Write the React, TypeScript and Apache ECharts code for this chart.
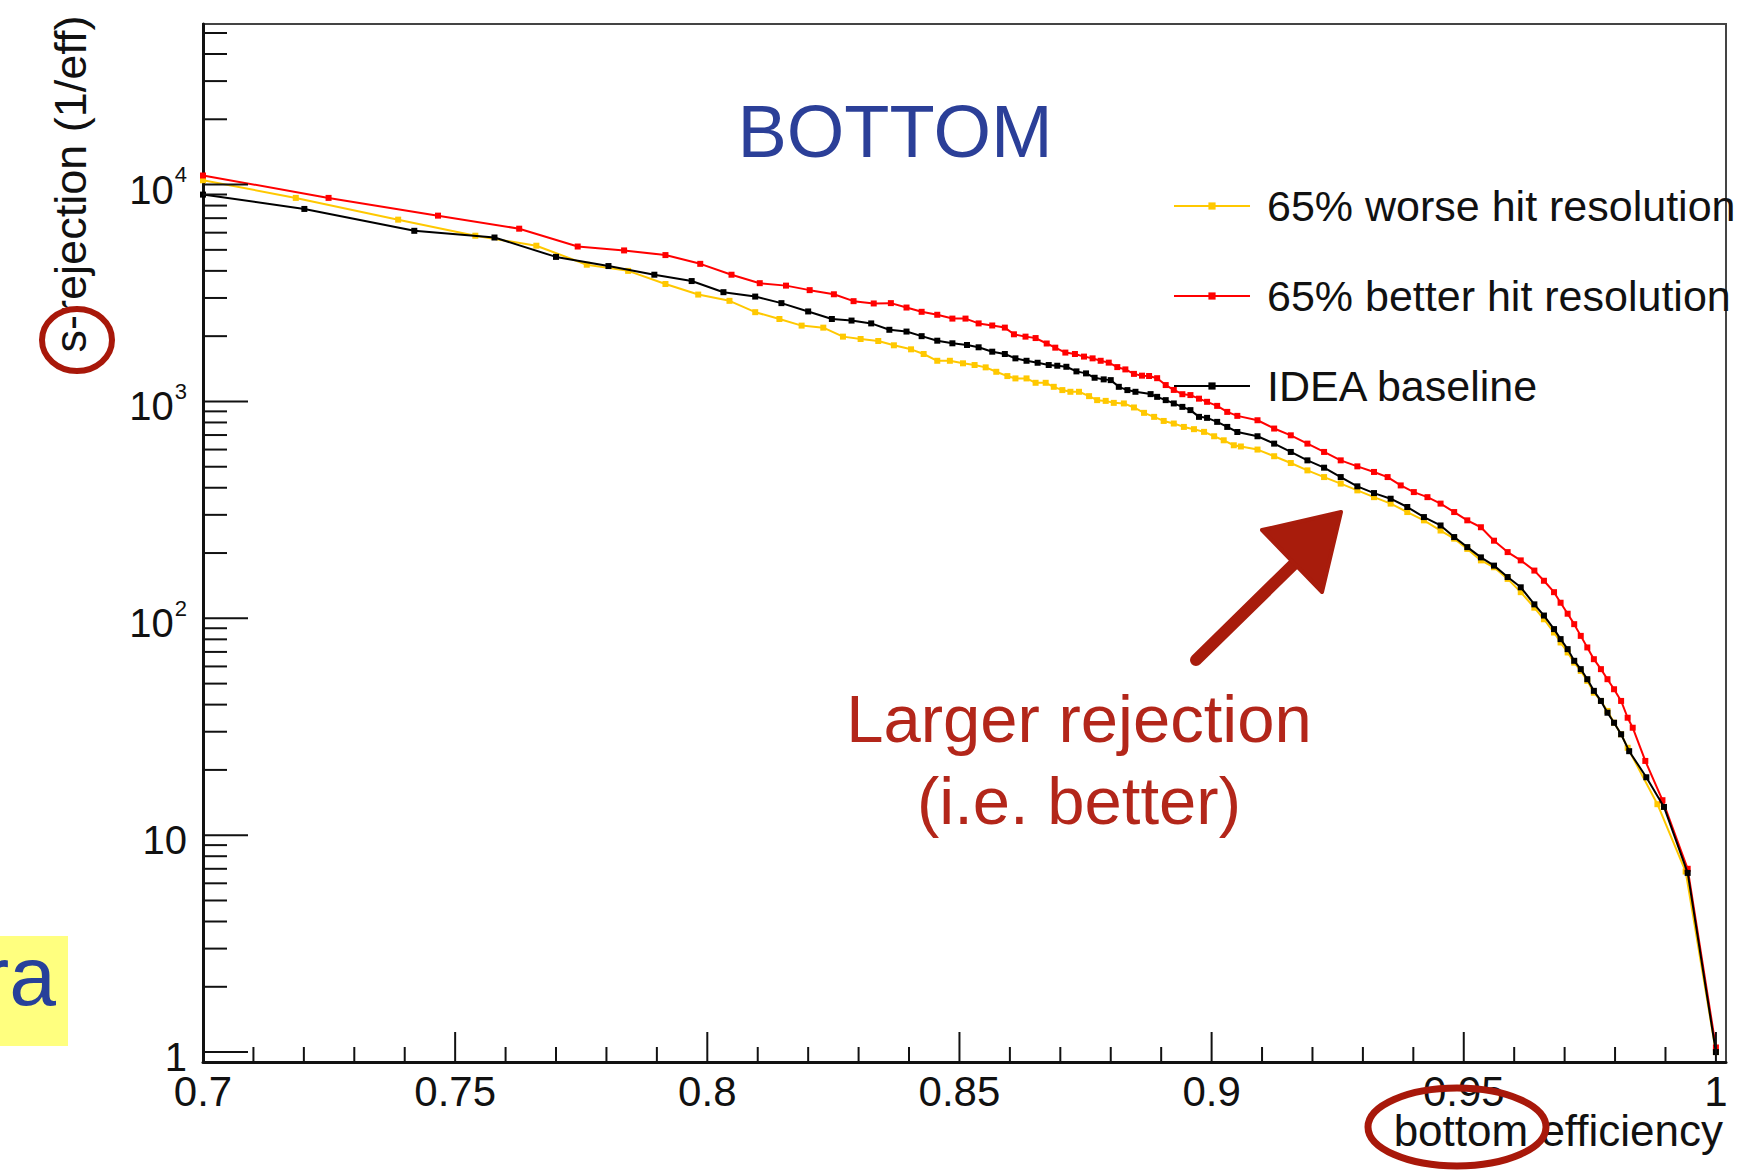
import React, { useEffect, useRef } from "react";
import * as echarts from "echarts";

const FONT = '"Liberation Sans", Arial, Helvetica, sans-serif';

// ---- data (signal efficiency, rejection) ----
const worseHit: [number, number][] = [
  [0.7, 10470], [0.7184, 8680], [0.7387, 6890], [0.754, 5810], [0.7661, 5225],
  [0.7761, 4270], [0.7843, 4000], [0.7917, 3480], [0.7982, 3110], [0.8044, 2910],
  [0.8095, 2580], [0.8143, 2400], [0.8187, 2237], [0.823, 2189], [0.8269, 1990],
  [0.8304, 1941], [0.8339, 1900], [0.837, 1815], [0.8404, 1739], [0.8429, 1655],
  [0.8456, 1540], [0.8481, 1540], [0.8507, 1499], [0.853, 1472], [0.8552, 1436],
  [0.8573, 1370], [0.8595, 1309], [0.8611, 1277], [0.8633, 1277], [0.8651, 1219],
  [0.8671, 1219], [0.8687, 1168], [0.8704, 1128], [0.872, 1108], [0.8737, 1108],
  [0.8757, 1058], [0.8773, 1014], [0.879, 1006], [0.8806, 985], [0.8826, 979],
  [0.8846, 938], [0.8866, 886], [0.8886, 849], [0.8905, 813], [0.8925, 791],
  [0.8945, 763], [0.8965, 745], [0.8985, 724], [0.9005, 691], [0.9024, 662],
  [0.9044, 628], [0.9058, 620], [0.9091, 600], [0.9124, 559], [0.9157, 520],
  [0.919, 481], [0.9223, 448], [0.9256, 418], [0.9289, 389], [0.9322, 362],
  [0.9355, 338], [0.9388, 309], [0.9421, 283], [0.9454, 254], [0.9481, 233],
  [0.9507, 209], [0.9534, 185], [0.956, 172], [0.9587, 152], [0.9613, 132],
  [0.964, 112], [0.9659, 99], [0.9679, 86], [0.9692, 77.4], [0.9706, 69.6],
  [0.9719, 62.5], [0.9732, 57.2], [0.9745, 51.5], [0.9758, 45.4], [0.9772, 41.6],
  [0.9785, 37.4], [0.9798, 33.0], [0.9812, 29.2], [0.9825, 25.3], [0.9884, 13.9],
  [0.994, 6.8], [1.0, 1.0],
];

const betterHit: [number, number][] = [
  [0.7, 11010], [0.7249, 8680], [0.7466, 7190], [0.7627, 6260], [0.7743, 5180],
  [0.7835, 4970], [0.7917, 4730], [0.7986, 4310], [0.8048, 3840], [0.8104, 3510],
  [0.8156, 3420], [0.8203, 3260], [0.8251, 3120], [0.829, 2900], [0.833, 2830],
  [0.8364, 2840], [0.8395, 2710], [0.8425, 2590], [0.8456, 2510], [0.8486, 2410],
  [0.8512, 2410], [0.8538, 2290], [0.8565, 2240], [0.859, 2190], [0.8608, 2040],
  [0.8631, 1990], [0.8651, 1960], [0.8673, 1850], [0.869, 1770], [0.871, 1680],
  [0.8729, 1655], [0.8747, 1610], [0.8764, 1580], [0.878, 1540], [0.8796, 1510],
  [0.8813, 1440], [0.8829, 1405], [0.8846, 1340], [0.8862, 1315], [0.8876, 1310],
  [0.8892, 1280], [0.8909, 1190], [0.8925, 1130], [0.8942, 1080], [0.8958, 1070],
  [0.8975, 1030], [0.8991, 996], [0.9011, 954], [0.9031, 895], [0.9051, 858],
  [0.9091, 819], [0.9124, 750], [0.9157, 698], [0.919, 639], [0.9223, 585],
  [0.9256, 535], [0.9289, 502], [0.9322, 473], [0.9349, 448], [0.9375, 410],
  [0.9401, 382], [0.9428, 362], [0.9454, 338], [0.9481, 309], [0.9507, 283],
  [0.9534, 263], [0.956, 228], [0.9587, 202], [0.9613, 185], [0.964, 166],
  [0.9659, 149], [0.9679, 132], [0.9692, 118], [0.9706, 105], [0.9719, 94],
  [0.9732, 83], [0.9745, 73.4], [0.9758, 64.8], [0.9772, 58.3], [0.9785, 52.4],
  [0.9798, 47.1], [0.9812, 41.6], [0.9825, 34.8], [0.9835, 31.3], [0.986, 22],
  [0.9894, 14.5], [0.9944, 7.0], [1.0, 1.05],
];

const baseline: [number, number][] = [
  [0.7, 8990], [0.7201, 7720], [0.7419, 6120], [0.7578, 5700], [0.77, 4640],
  [0.7804, 4210], [0.7895, 3840], [0.7969, 3590], [0.8032, 3190], [0.8095, 3045],
  [0.8147, 2840], [0.82, 2600], [0.8247, 2400], [0.8286, 2360], [0.8325, 2290],
  [0.8361, 2140], [0.8395, 2100], [0.8425, 2000], [0.8456, 1906], [0.8486, 1854],
  [0.8515, 1821], [0.8538, 1777], [0.8565, 1696], [0.859, 1655], [0.8611, 1580],
  [0.8633, 1540], [0.8655, 1508], [0.8677, 1472], [0.8694, 1461], [0.8712, 1445],
  [0.8732, 1376], [0.8751, 1347], [0.8768, 1286], [0.8786, 1264], [0.88, 1254],
  [0.8816, 1168], [0.8833, 1128], [0.8849, 1108], [0.8879, 1081], [0.8892, 1050],
  [0.8909, 1014], [0.8925, 979], [0.8942, 944], [0.8958, 912], [0.8975, 849],
  [0.8991, 840], [0.9011, 805], [0.9031, 763], [0.9051, 723], [0.9091, 691],
  [0.9124, 639], [0.9157, 585], [0.919, 535], [0.9223, 495], [0.9256, 448],
  [0.9289, 406], [0.9322, 378], [0.9355, 356], [0.9388, 326], [0.9421, 293],
  [0.9454, 268], [0.9481, 237], [0.9507, 213], [0.9534, 191], [0.956, 175],
  [0.9587, 155], [0.9613, 139], [0.964, 116], [0.9659, 103], [0.9679, 89.2],
  [0.9692, 80.2], [0.9706, 72.1], [0.9719, 63.7], [0.9732, 58.3], [0.9745, 52.4],
  [0.9758, 46.3], [0.9772, 41.6], [0.9785, 36.7], [0.9798, 33.0], [0.9812, 29.2],
  [0.9828, 24.4], [0.9862, 18.5], [0.9897, 13.5], [0.9944, 6.7], [1.0, 1.0],
];

const seriesNames = [
  "65% worse hit resolution",
  "65% better hit resolution",
  "IDEA baseline",
];
const seriesColors = ["#ffc800", "#ff0000", "#000000"];

// ---- axes ----
const xMin = 0.7;
const xMax = 1.002;
const yMin = 0.9;
const yMax = 55000;
const xTickLabels: [number, string][] = [
  [0.7, "0.7"], [0.75, "0.75"], [0.8, "0.8"], [0.85, "0.85"],
  [0.9, "0.9"], [0.95, "0.95"], [1.0, "1"],
];
const xMajorTicks = [0.7, 0.75, 0.8, 0.85, 0.9, 0.95, 1.0];
const xMinorTicks = [
  0.71, 0.72, 0.73, 0.74, 0.76, 0.77, 0.78, 0.79, 0.81, 0.82, 0.83, 0.84,
  0.86, 0.87, 0.88, 0.89, 0.91, 0.92, 0.93, 0.94, 0.96, 0.97, 0.98, 0.99,
];
const yMajorTicks = [1, 10, 100, 1000, 10000];
const yMinorTicks = [
  2, 3, 4, 5, 6, 7, 8, 9,
  20, 30, 40, 50, 60, 70, 80, 90,
  200, 300, 400, 500, 600, 700, 800, 900,
  2000, 3000, 4000, 5000, 6000, 7000, 8000, 9000,
  20000, 30000, 40000, 50000,
];

export default function App() {
  const ref = useRef<HTMLDivElement>(null);

  useEffect(() => {
    if (!ref.current) return;
    const chart = echarts.init(ref.current, null, { renderer: "svg" });

    const tickData: number[][] = [
      ...xMajorTicks.map((v) => [v, yMin, 0]),
      ...xMinorTicks.map((v) => [v, yMin, 1]),
      ...yMajorTicks.map((v) => [xMin, v, 2]),
      ...yMinorTicks.map((v) => [xMin, v, 3]),
    ];

    const lineSeries = [worseHit, betterHit, baseline].map((d, i) => ({
      type: "line",
      name: seriesNames[i],
      data: d,
      symbol: "rect",
      symbolSize: 6,
      showSymbol: true,
      showAllSymbol: true,
      lineStyle: { color: seriesColors[i], width: 2 },
      itemStyle: { color: seriesColors[i] },
      z: 3 + i,
      silent: true,
    }));

    const option: any = {
      animation: false,
      backgroundColor: "#ffffff",
      textStyle: { fontFamily: FONT },
      grid: {
        left: 203,
        top: 24,
        width: 1523,
        height: 1038,
        show: true,
        borderColor: "#444",
        borderWidth: 2,
        backgroundColor: "transparent",
      },
      xAxis: {
        type: "value",
        min: xMin,
        max: xMax,
        interval: 0.05,
        axisLine: { show: true, lineStyle: { color: "#111", width: 3 } },
        axisTick: { show: false },
        splitLine: { show: false },
        axisLabel: {
          color: "#111",
          fontSize: 42,
          fontFamily: FONT,
          margin: 8,
          formatter: (v: number) => {
            const f = xTickLabels.find((t) => Math.abs(t[0] - v) < 1e-6);
            return f ? f[1] : "";
          },
        },
      },
      yAxis: {
        type: "log",
        logBase: 10,
        min: yMin,
        max: yMax,
        axisLine: { show: true, lineStyle: { color: "#111", width: 3 } },
        axisTick: { show: false },
        splitLine: { show: false },
        axisLabel: {
          color: "#111",
          fontSize: 40,
          fontFamily: FONT,
          margin: 16,
          formatter: (v: number) => {
            const l = Math.log10(v);
            const e = Math.round(l);
            if (Math.abs(l - e) > 1e-6 || e < 0) return "";
            if (e === 0) return "{b|1}";
            if (e === 1) return "{b|10}";
            return "{b|10}{sup|" + e + "}";
          },
          rich: {
            b: { fontSize: 40, fontFamily: FONT, color: "#111", padding: [10, 0, 0, 0] },
            sup: { fontSize: 22, fontFamily: FONT, color: "#111", padding: [0, 0, 20, 1] },
          },
        },
      },
      legend: {
        data: seriesNames,
        orient: "vertical",
        left: 1168,
        top: 176,
        itemWidth: 76,
        itemHeight: 9,
        itemGap: 40,
        selectedMode: false,
        textStyle: {
          fontSize: 43,
          fontFamily: FONT,
          color: "#111",
          lineHeight: 50,
          padding: [0, 0, 0, 12],
        },
      },
      series: [
        ...lineSeries,
        {
          type: "custom",
          name: "ticks",
          silent: true,
          z: 6,
          clip: false,
          data: tickData,
          renderItem: (_p: any, api: any) => {
            const kind = api.value(2);
            const pt = api.coord([api.value(0), api.value(1)]);
            let x2 = pt[0];
            let y2 = pt[1];
            if (kind === 0) y2 -= 30;
            else if (kind === 1) y2 -= 15;
            else if (kind === 2) x2 += 45;
            else x2 += 24;
            return {
              type: "line",
              shape: { x1: pt[0], y1: pt[1], x2, y2 },
              style: { stroke: "#111", lineWidth: 2 },
            };
          },
        },
      ],
      graphic: [
        {
          type: "text",
          x: 895,
          y: 131,
          z: 50,
          style: {
            text: "BOTTOM",
            fontSize: 74,
            fontFamily: FONT,
            fill: "#2b3f98",
            align: "center",
            verticalAlign: "middle",
            textAlign: "center",
            textVerticalAlign: "middle",
          },
        },
        {
          type: "text",
          x: 1079,
          y: 718,
          z: 50,
          style: {
            text: "Larger rejection",
            fontSize: 67,
            fontFamily: FONT,
            fill: "#b3261a",
            align: "center",
            verticalAlign: "middle",
            textAlign: "center",
            textVerticalAlign: "middle",
          },
        },
        {
          type: "text",
          x: 1079,
          y: 800,
          z: 50,
          style: {
            text: "(i.e. better)",
            fontSize: 67,
            fontFamily: FONT,
            fill: "#b3261a",
            align: "center",
            verticalAlign: "middle",
            textAlign: "center",
            textVerticalAlign: "middle",
          },
        },
        {
          type: "line",
          z: 60,
          shape: { x1: 1196, y1: 660, x2: 1298, y2: 560 },
          style: { stroke: "#a81c0c", lineWidth: 12, lineCap: "round" },
        },
        {
          type: "polygon",
          z: 60,
          shape: { points: [[1341, 512], [1262, 530], [1322, 592]] },
          style: { fill: "#a81c0c", stroke: "#a81c0c", lineWidth: 4, lineJoin: "round" },
        },
        {
          type: "text",
          x: 70,
          y: 184,
          rotation: Math.PI / 2,
          z: 50,
          style: {
            text: "s-rejection (1/eff)",
            fontSize: 45,
            fontFamily: FONT,
            fill: "#111",
            align: "center",
            verticalAlign: "middle",
            textAlign: "center",
            textVerticalAlign: "middle",
          },
        },
        {
          type: "text",
          x: 1723,
          y: 1130,
          z: 50,
          style: {
            text: "bottom efficiency",
            fontSize: 44,
            fontFamily: FONT,
            fill: "#111",
            align: "right",
            verticalAlign: "middle",
            textAlign: "right",
            textVerticalAlign: "middle",
          },
        },
        {
          type: "ellipse",
          z: 70,
          shape: { cx: 77, cy: 340, rx: 35, ry: 31 },
          style: { fill: "none", stroke: "#a8180a", lineWidth: 6 },
        },
        {
          type: "ellipse",
          z: 70,
          shape: { cx: 1457, cy: 1127, rx: 89, ry: 39 },
          style: { fill: "none", stroke: "#a8180a", lineWidth: 7 },
        },
        {
          type: "rect",
          z: 40,
          shape: { x: 0, y: 936, width: 68, height: 110 },
          style: { fill: "#ffff7f" },
        },
        {
          type: "text",
          x: 56,
          y: 1018,
          z: 45,
          style: {
            text: "ra",
            fontSize: 84,
            fontFamily: FONT,
            fill: "#27409a",
            align: "right",
            verticalAlign: "bottom",
            textAlign: "right",
            textVerticalAlign: "bottom",
          },
        },
      ],
    };

    chart.setOption(option);
    return () => chart.dispose();
  }, []);

  return (
    <div
      ref={ref}
      style={{
        position: "fixed",
        left: 0,
        top: 0,
        width: 1752,
        height: 1171,
        background: "#fff",
      }}
    />
  );
}
